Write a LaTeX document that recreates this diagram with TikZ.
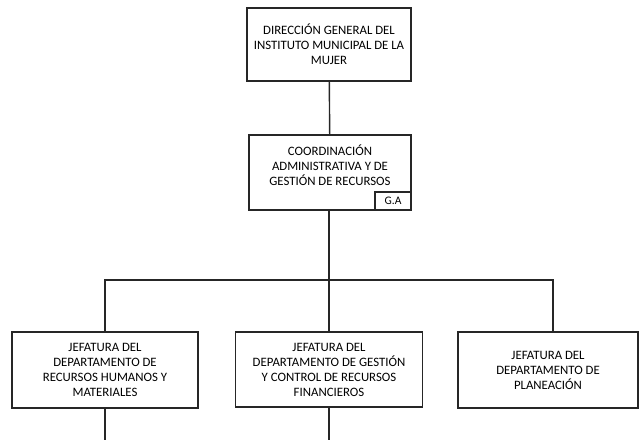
\documentclass[tikz,border=0pt]{standalone}
\usepackage{fontspec}
\setmainfont{Carlito}
\usetikzlibrary{positioning}

\begin{document}
\begin{tikzpicture}[x=1pt,y=-1pt,
  unit/.style={rectangle,draw=black!85,line width=1.4pt,align=center,
    inner sep=2pt,font=\fontsize{12.8}{15}\selectfont},
  tag/.style={rectangle,draw=black!85,line width=1.4pt,inner sep=2pt,
    minimum width=36pt,minimum height=18pt,font=\fontsize{11.5}{12}\selectfont},
  link/.style={draw=black!85,line width=1.4pt}]
\useasboundingbox (0,0) rectangle (639,440);

% head
  \node[unit,minimum width=164pt,minimum height=73pt] (dir) at (329,44.5)
    {DIRECCIÓN GENERAL DEL\\INSTITUTO MUNICIPAL DE LA\\MUJER};

% coordination + tag
  \node[unit,minimum width=162pt,minimum height=75pt,text depth=15pt] (coord) at (330,172.5)
    {COORDINACIÓN\\ADMINISTRATIVA Y DE\\GESTIÓN DE RECURSOS};
  \node[tag,anchor=south east] (ga) at (coord.south east) {G.A};

% departments
  \node[unit,minimum width=186pt,minimum height=76pt] (rh) at (105,370)
    {JEFATURA DEL\\DEPARTAMENTO DE\\RECURSOS HUMANOS Y\\MATERIALES};
  \node[unit,minimum width=187pt,minimum height=75pt] (fin) at (329,369.5)
    {JEFATURA DEL\\DEPARTAMENTO DE GESTIÓN\\Y CONTROL DE RECURSOS\\FINANCIEROS};
  \node[unit,minimum width=180pt,minimum height=76pt] (plan) at (548,370)
    {JEFATURA DEL\\DEPARTAMENTO DE\\PLANEACIÓN};

  \coordinate (bus) at (329,280);
  \coordinate (rhend) at (105,440);
  \coordinate (finend) at (329,440);

  \path[link]
    (dir) edge (coord)
    (coord.south -| fin.north) edge (fin);
  \draw[link] (rh.north) |- (bus) -| ([xshift=5pt]plan.north);
  \draw[link] (rh.south) -- (rhend);
  \draw[link] (fin.south) -- (finend);

\end{tikzpicture}
\end{document}
